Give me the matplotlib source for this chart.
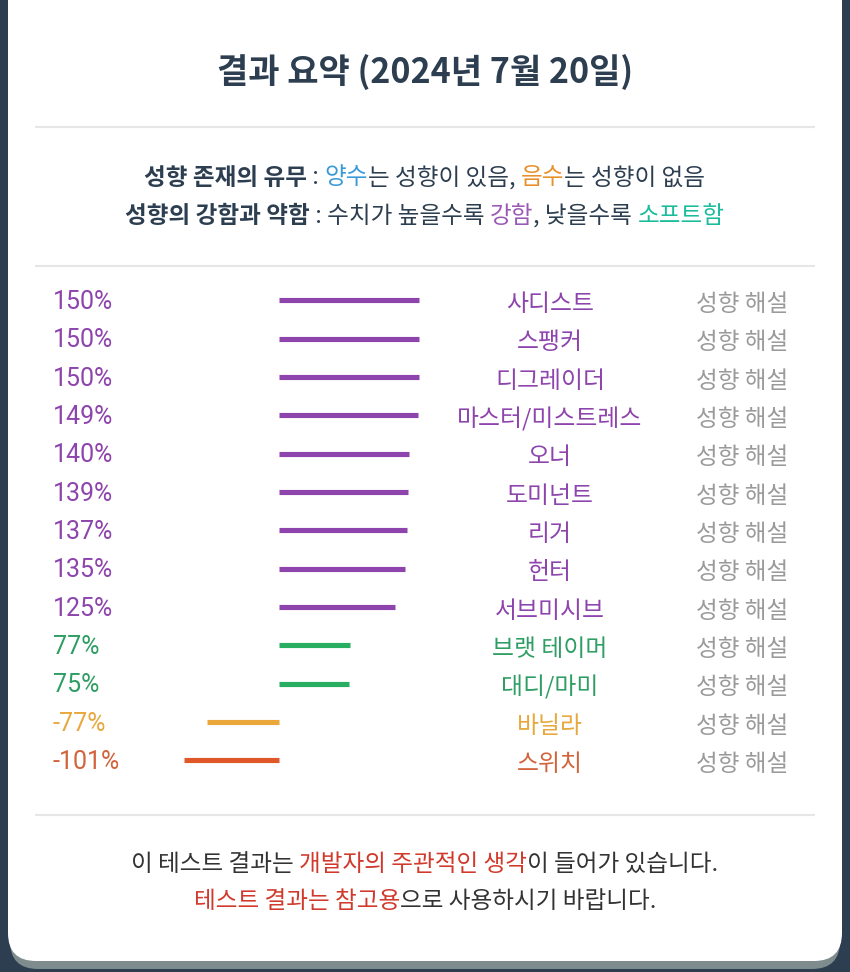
import matplotlib
matplotlib.use("Agg")
import matplotlib.pyplot as plt
from matplotlib.patches import FancyBboxPatch
from matplotlib.transforms import blended_transform_factory, offset_copy

plt.rcParams['font.family'] = ['Noto Sans CJK KR', 'DejaVu Sans']

# ---------------- data ----------------
names = ['사디스트', '스팽커', '디그레이더', '마스터/미스트레스', '오너', '도미넌트',
         '리거', '헌터', '서브미시브', '브랫 테이머', '대디/마미', '바닐라', '스위치']
values = [150, 150, 150, 149, 140, 139, 137, 135, 125, 77, 75, -77, -101]
groups = ['strong'] * 9 + ['mild'] * 2 + ['vanilla', 'switch']
link_label = '성향 해설'
title = '결과 요약 (2024년 7월 20일)'

bar_colors = {'strong': '#8e44ad', 'mild': '#27ae60', 'vanilla': '#eba83a', 'switch': '#e0582a'}
text_colors = {'strong': '#8e44ad', 'mild': '#2e9e64', 'vanilla': '#e8a83e', 'switch': '#d2643c'}

DARK = '#2c3e50'
W, H = 850, 972

fig = plt.figure(figsize=(W / 100, H / 100), dpi=100)
fig.patch.set_facecolor(DARK)

bg = fig.add_axes([0, 0, 1, 1])
bg.set_xlim(0, W)
bg.set_ylim(H, 0)
bg.axis('off')

# card shadow + card
bg.add_patch(FancyBboxPatch((10, -60), 830, 1029, boxstyle="round,pad=0,rounding_size=28",
                            fc='#7f8c8d', ec='none', zorder=0))
bg.add_patch(FancyBboxPatch((8, -60), 834, 1021, boxstyle="round,pad=0,rounding_size=28",
                            fc='white', ec='none', zorder=1))

# separators
for yy in (127, 266, 815):
    bg.plot([35, 815], [yy, yy], color='#e6e6e6', lw=1.5, zorder=2, solid_capstyle='butt')

# title
bg.text(425, 72, title, ha='center', va='center', fontsize=24.5, fontweight='bold',
        color=DARK, zorder=3)

renderer = fig.canvas.get_renderer()


def seg_line(segments, cx, y, fontsize):
    texts = []
    for s, c, w in segments:
        t = bg.text(0, y, s, ha='left', va='center', fontsize=fontsize, color=c,
                    fontweight=w, zorder=3)
        texts.append(t)
    widths = [t.get_window_extent(renderer).width for t in texts]
    x = cx - sum(widths) / 2
    for t, w in zip(texts, widths):
        t.set_x(x)
        x += w


seg_line([('성향 존재의 유무', DARK, 'bold'), (' : ', DARK, 'normal'),
          ('양수', '#3a9ad9', 'normal'), ('는 성향이 있음, ', DARK, 'normal'),
          ('음수', '#e8902a', 'normal'), ('는 성향이 없음', DARK, 'normal')],
         425, 178, 17)
seg_line([('성향의 강함과 약함', DARK, 'bold'), (' : 수치가 높을수록 ', DARK, 'normal'),
          ('강함', '#9b59b6', 'normal'), (', 낮을수록 ', DARK, 'normal'),
          ('소프트함', '#1abc9c', 'normal')],
         425, 216, 17)

seg_line([('이 테스트 결과는 ', '#333333', 'normal'),
          ('개발자의 주관적인 생각', '#d0392b', 'normal'),
          ('이 들어가 있습니다.', '#333333', 'normal')],
         425, 864, 17)
seg_line([('테스트 결과는 참고용', '#d0392b', 'normal'),
          ('으로 사용하시기 바랍니다.', '#333333', 'normal')],
         425, 901, 17)

# ---------------- bars ----------------
x0, x1, y0, y1 = 100, 460, 280, 780
ax = fig.add_axes([x0 / W, (H - y1) / H, (x1 - x0) / W, (y1 - y0) / H])
ax.patch.set_alpha(0)
ax.axis('off')
zero_px, scale = 278.5, 0.935
row0, row_h = 300.5, 38.33
ax.set_xlim((x0 - zero_px) / scale, (x1 - zero_px) / scale)
ax.set_ylim((y1 - row0) / row_h, (y0 - row0) / row_h)

rows = list(range(len(names)))
ax.hlines(rows, 0, values, colors=[bar_colors[g] for g in groups], lw=3.7,
          capstyle='butt', zorder=4)

tr = blended_transform_factory(bg.transData, ax.transData)
tr_val = offset_copy(tr, fig=fig, x=0, y=-1.5, units='dots')
tr_name = offset_copy(tr, fig=fig, x=0, y=-4, units='dots')
for i, (n, v, g) in enumerate(zip(names, values, groups)):
    ax.text(53, i, f'{v}%', transform=tr_val, ha='left', va='center', fontsize=18,
            color=text_colors[g], family=['Roboto', 'Noto Sans CJK KR'], zorder=5)
    ax.text(550, i, n, transform=tr_name, ha='center', va='center', fontsize=17.2,
            color=text_colors[g], zorder=5)
    ax.text(742, i, link_label, transform=tr_name, ha='center', va='center', fontsize=17,
            color='#9a9a9a', zorder=5)

fig.savefig('out.png', dpi=100, facecolor=fig.get_facecolor())
